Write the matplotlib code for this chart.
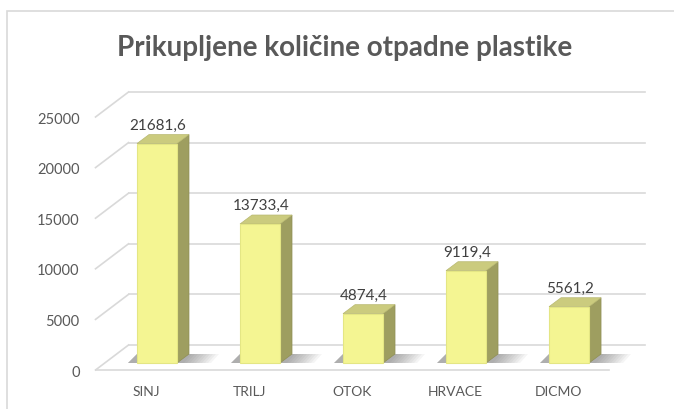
import numpy as np
import matplotlib
matplotlib.use('Agg')
import matplotlib.pyplot as plt
from matplotlib.patches import Polygon, Rectangle

#-------------DATA---------------
categories = ['SINJ', 'TRILJ', 'OTOK', 'HRVACE', 'DICMO']
values = [21681.6, 13733.4, 4874.4, 9119.4, 5561.2]
value_labels = ['21681,6', '13733,4', '4874,4', '9119,4', '5561,2']
yticks = [0, 5000, 10000, 15000, 20000, 25000]
title = 'Prikupljene količine otpadne plastike'

#-------------LOOK---------------
plt.rcParams['font.family'] = ['Lato', 'DejaVu Sans']
front_col = '#F4F592'
side_col = '#9E9E60'
top_col = '#CBCB7E'
grid_col = '#D9D9D9'
text_col = '#595959'

fig = plt.figure(figsize=(6.74, 4.10), dpi=100)
ax = fig.add_axes([88/674, 30/410, 582/674, 300/410])
ax.set_xlim(-0.563, 5.087)
ax.set_ylim(-889, 28755)
for s in ax.spines.values():
    s.set_visible(False)

# pixel -> data helpers (103 px per category, 0.01012 px per unit)
px_x = 1/103
px_y = 1/0.01012
wall_dx, wall_dy = 33*px_x, 25*px_y
bar_dx, bar_dy = 12*px_x, 9*px_y
base = 7*px_y
x_left = -0.49
x_front_end = 4.495
x_back_end = 4.845

# back wall gridlines + left wall diagonals
for t in yticks:
    ax.plot([x_left + wall_dx, x_back_end], [t + wall_dy, t + wall_dy],
            color=grid_col, lw=1.2, zorder=1)
    ax.plot([x_left, x_left + wall_dx], [t, t + wall_dy],
            color=grid_col, lw=1.2, zorder=1)
# floor front edge
ax.plot([x_left, x_front_end], [0, 0], color=grid_col, lw=1.2, zorder=1)

# bars
xpos = np.arange(len(categories)) + 11*px_x
w = 40*px_x
for x, v, lab in zip(xpos, values, value_labels):
    xl, xr = x - w/2, x + w/2
    top = base + v
    # soft floor shadow, built from thin overlapping layers
    for k in range(10):
        ext = 34 - 3*k
        ax.add_patch(Polygon([(xl - 9*px_x, base), (xr + ext*px_x, base),
                              (xr + (ext + 8)*px_x, base + 9*px_y), (xl, base + 9*px_y)],
                             closed=True, facecolor='#404040', alpha=0.05,
                             edgecolor='none', zorder=2))
    ax.bar(x, v, width=w, bottom=base, color=front_col, edgecolor='#E4E684',
           lw=0.8, zorder=4)
    ax.add_patch(Polygon([(xr, base), (xr + bar_dx, base + bar_dy),
                          (xr + bar_dx, top + bar_dy), (xr, top)],
                         closed=True, facecolor=side_col, edgecolor='#8F8F55',
                         lw=0.5, zorder=3))
    ax.add_patch(Polygon([(xl, top), (xl + bar_dx, top + bar_dy),
                          (xr + bar_dx, top + bar_dy), (xr, top)],
                         closed=True, facecolor=top_col, edgecolor='#B8B870',
                         lw=0.5, zorder=3))
    ax.text(x + 1*px_x, top + bar_dy + 3*px_y, lab, ha='center', va='bottom',
            fontsize=11, color='#404040', zorder=5)

ax.set_xticks(np.arange(len(categories)))
ax.set_xticklabels(categories, fontsize=10, color=text_col)
ax.set_yticks(yticks)
ax.set_yticklabels([str(t) for t in yticks], fontsize=10.5, color=text_col)
ax.tick_params(axis='both', length=0)
ax.tick_params(axis='y', pad=6)
ax.tick_params(axis='x', pad=4)

fig.text(345/674, 1 - 48/410, title, ha='center', va='center', fontsize=20,
         fontweight='bold', color=text_col)

# chart area border
fig.patches.append(Rectangle((7/674, -0.1), 1.2, 1 - 12/410 + 0.1,
                             transform=fig.transFigure, fill=False,
                             edgecolor='#D9D9D9', lw=1.2))

fig.savefig('out.png', dpi=100)
